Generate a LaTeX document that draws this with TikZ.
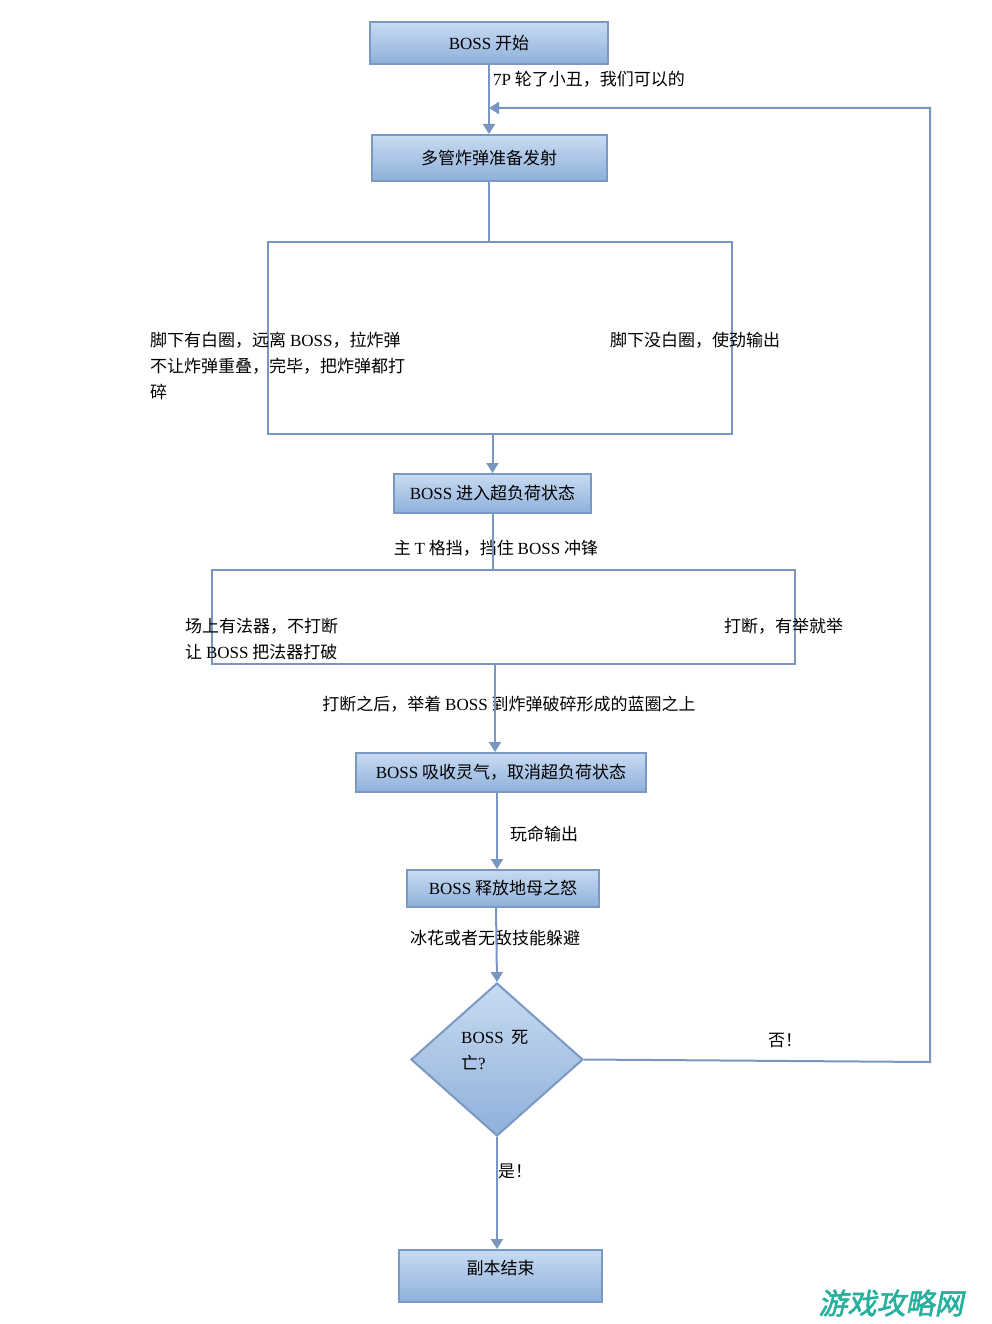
\documentclass[tikz,border=0pt]{standalone}
\usepackage{fontspec}
\setmainfont{Liberation Serif}
\newfontfamily\cjk{Noto Sans CJK SC}
\newfontfamily\lat{Liberation Serif}
\newfontfamily\wmfont[FakeSlant=0.2,FakeBold=2]{Noto Sans CJK SC}
\usetikzlibrary{shapes.geometric,arrows.meta}
\definecolor{lineblue}{RGB}{120,150,192}
\definecolor{boxtop}{RGB}{200,219,242}
\definecolor{boxbot}{RGB}{143,176,218}
\definecolor{boxedge}{RGB}{122,152,194}
\definecolor{wmgreen}{RGB}{38,176,158}
\begin{document}
\begin{tikzpicture}[x=1pt,y=-1pt,
    font=\cjk\fontsize{17}{26}\selectfont,
    stepbox/.style={draw=boxedge,line width=2pt,top color=boxtop,bottom color=boxbot,inner sep=0pt},
    frame/.style={draw=lineblue,line width=2pt,inner sep=0pt},
    txt/.style={anchor=west,inner sep=0pt,align=left},
    ln/.style={draw=lineblue,line width=2pt},
    arr/.style={ln,-{Triangle[width=12pt,length=10pt]}}]
  \useasboundingbox (0,0) rectangle (992,1324);
  % steps
  \node[stepbox,minimum width=238pt,minimum height=42pt] (start) at (489,43) {{\lat BOSS} 开始};
  \node[stepbox,minimum width=235pt,minimum height=46pt] (fire) at (489,158) {多管炸弹准备发射};
  \node[frame,minimum width=464pt,minimum height=192pt] (whiteA) at (500,338) {};
  \node[stepbox,minimum width=197pt,minimum height=39pt] (overload) at (492.5,493.5) {{\lat BOSS} 进入超负荷状态};
  \node[frame,minimum width=583pt,minimum height=94pt] (chargeB) at (503.5,617) {};
  \node[stepbox,minimum width=290pt,minimum height=39pt] (absorb) at (501,772.5) {{\lat BOSS} 吸收灵气，取消超负荷状态};
  \node[stepbox,minimum width=192pt,minimum height=37pt] (wrath) at (503,888.5) {{\lat BOSS} 释放地母之怒};
  \node[diamond,draw=boxedge,line width=2pt,top color=boxtop,bottom color=boxbot,
        minimum width=172pt,minimum height=153pt,inner sep=0pt] (dead) at (497,1059.5) {};
  \node[stepbox,minimum width=203pt,minimum height=52pt] (finish) at (500.5,1276) {\raisebox{2pt}[0pt][0pt]{副本结束}};
  % labels
  \node[txt] (deadtxt) at (461,1050) {{\lat BOSS}\ \ 死\\亡{\lat ?}};
  \node[txt] (l7p) at (493,79) {{\lat 7P} 轮了小丑，我们可以的};
  \node[txt] (whiteyes) at (150,366) {脚下有白圈，远离 {\lat BOSS}，拉炸弹\\不让炸弹重叠，完毕，把炸弹都打\\碎};
  \node[txt] (whiteno) at (610,340) {脚下没白圈，使劲输出};
  \node[inner sep=0pt] (tank) at (496,548) {主 {\lat T} 格挡，挡住 {\lat BOSS} 冲锋};
  \node[txt] (relic) at (185,639) {场上有法器，不打断\\让 {\lat BOSS} 把法器打破};
  \node[txt] (interrupt) at (724,626) {打断，有举就举};
  \node[inner sep=0pt] (lift) at (509,704) {打断之后，举着 {\lat BOSS} 到炸弹破碎形成的蓝圈之上};
  \node[txt] (burst) at (510,834) {玩命输出};
  \node[txt] (dodge) at (410,938) {冰花或者无敌技能躲避};
  \node[txt] (nolbl) at (768,1041) {否！};
  \node[txt] (yeslbl) at (498,1171) {是！};
  \node[inner sep=0pt,text=wmgreen,font=\wmfont\fontsize{29}{30}\selectfont] (wm) at (891,1303) {游戏攻略网};
  % connectors
  \coordinate (loopR) at (930,1062);
  \coordinate (loopT) at (930,108);
  \draw[arr] (start.south) -- (fire.north);
  \draw[ln] (fire.south) -- (fire.south |- whiteA.north);
  \draw[arr] (overload.north |- whiteA.south) -- (overload.north);
  \draw[ln] (overload.south) -- (overload.south |- chargeB.north);
  \draw[arr] ([xshift=-8.5pt]chargeB.south) -- ([xshift=-6pt]absorb.north);
  \draw[arr] ([xshift=-4pt]absorb.south) -- ([xshift=-6pt]wrath.north);
  \draw[arr] ([xshift=-7pt]wrath.south) -- (dead.north);
  \draw[arr] (dead.south) -- (dead.south |- finish.north);
  \draw[arr] (dead.east) -- (loopR) -- (loopT) -- (loopT -| start.south);
\end{tikzpicture}
\end{document}
